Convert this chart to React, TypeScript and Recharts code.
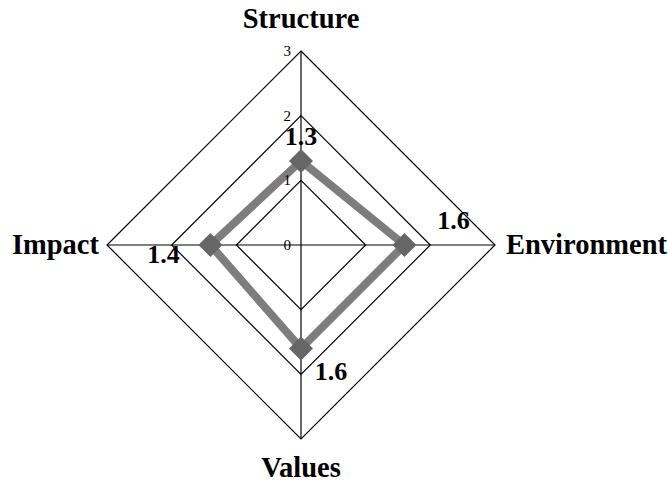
import React from "react"
import { RadarChart, Radar, PolarGrid, PolarAngleAxis, PolarRadiusAxis } from "recharts"

const categories = ["Structure", "Environment", "Values", "Impact"]
const scores = [1.3, 1.6, 1.6, 1.4]
const radiusTicks = [0, 1, 2, 3]

const data = categories.map((name, i) => ({ name, value: scores[i] }))

const FONT = "'Liberation Serif', 'Times New Roman', serif"

// where each value label sits, relative to its point
const labelOffsets = [
  [0, -25],
  [49, -25],
  [30, 23],
  [-47, 9],
]

function AngleTick(props: any) {
  const { x, y, payload } = props
  const name = payload.value
  let dx = 0
  let dy = 0
  let anchor = "middle"
  if (name === "Structure") dy = -15
  else if (name === "Values") dy = 30
  else if (name === "Environment") { dx = 3; dy = 9; anchor = "start" }
  else if (name === "Impact") { dx = 0; dy = 9; anchor = "end" }
  return (
    <text x={x + dx} y={y + dy} textAnchor={anchor} fontFamily={FONT} fontWeight="bold" fontSize={28.5} fill="#000">
      {name}
    </text>
  )
}

function RadiusTick(props: any) {
  const { x, y, payload } = props
  return (
    <text x={x - 10} y={y + 5} textAnchor="end" fontFamily={FONT} fontSize={15} fill="#000" stroke="none">
      {payload.value}
    </text>
  )
}

function DiamondDot(props: any) {
  const { cx, cy } = props
  const s = 12
  return <polygon points={`${cx},${cy - s} ${cx + s},${cy} ${cx},${cy + s} ${cx - s},${cy}`} fill="#666" />
}

function ValueLabel(props: any) {
  const { x, y, value, index } = props
  const [ox, oy] = labelOffsets[index] || [0, 0]
  return (
    <text x={x + ox} y={y + oy + 9} textAnchor="middle" fontFamily={FONT} fontWeight="bold" fontSize={26} fill="#000">
      {value}
    </text>
  )
}

export default function App() {
  return (
    <div style={{ position: "absolute", top: 0, left: 0, width: 668, height: 482, background: "#fff" }}>
      <RadarChart
        width={668}
        height={482}
        data={data}
        cx={301}
        cy={245}
        outerRadius={194}
        margin={{ top: 0, right: 0, bottom: 0, left: 0 }}
      >
        <PolarGrid gridType="polygon" stroke="#000" strokeWidth={1.2} strokeOpacity={1} />
        <PolarAngleAxis dataKey="name" tick={<AngleTick />} tickLine={false} axisLine={false} />
        <PolarRadiusAxis
          angle={90}
          domain={[0, 3]}
          ticks={radiusTicks}
          tickCount={4}
          orientation="left"
          axisLine={false}
          tick={<RadiusTick />}
        />
        <Radar
          dataKey="value"
          stroke="#7d7d7d"
          strokeWidth={8}
          fill="none"
          fillOpacity={0}
          dot={<DiamondDot />}
          label={ValueLabel}
          isAnimationActive={false}
        />
      </RadarChart>
    </div>
  )
}
